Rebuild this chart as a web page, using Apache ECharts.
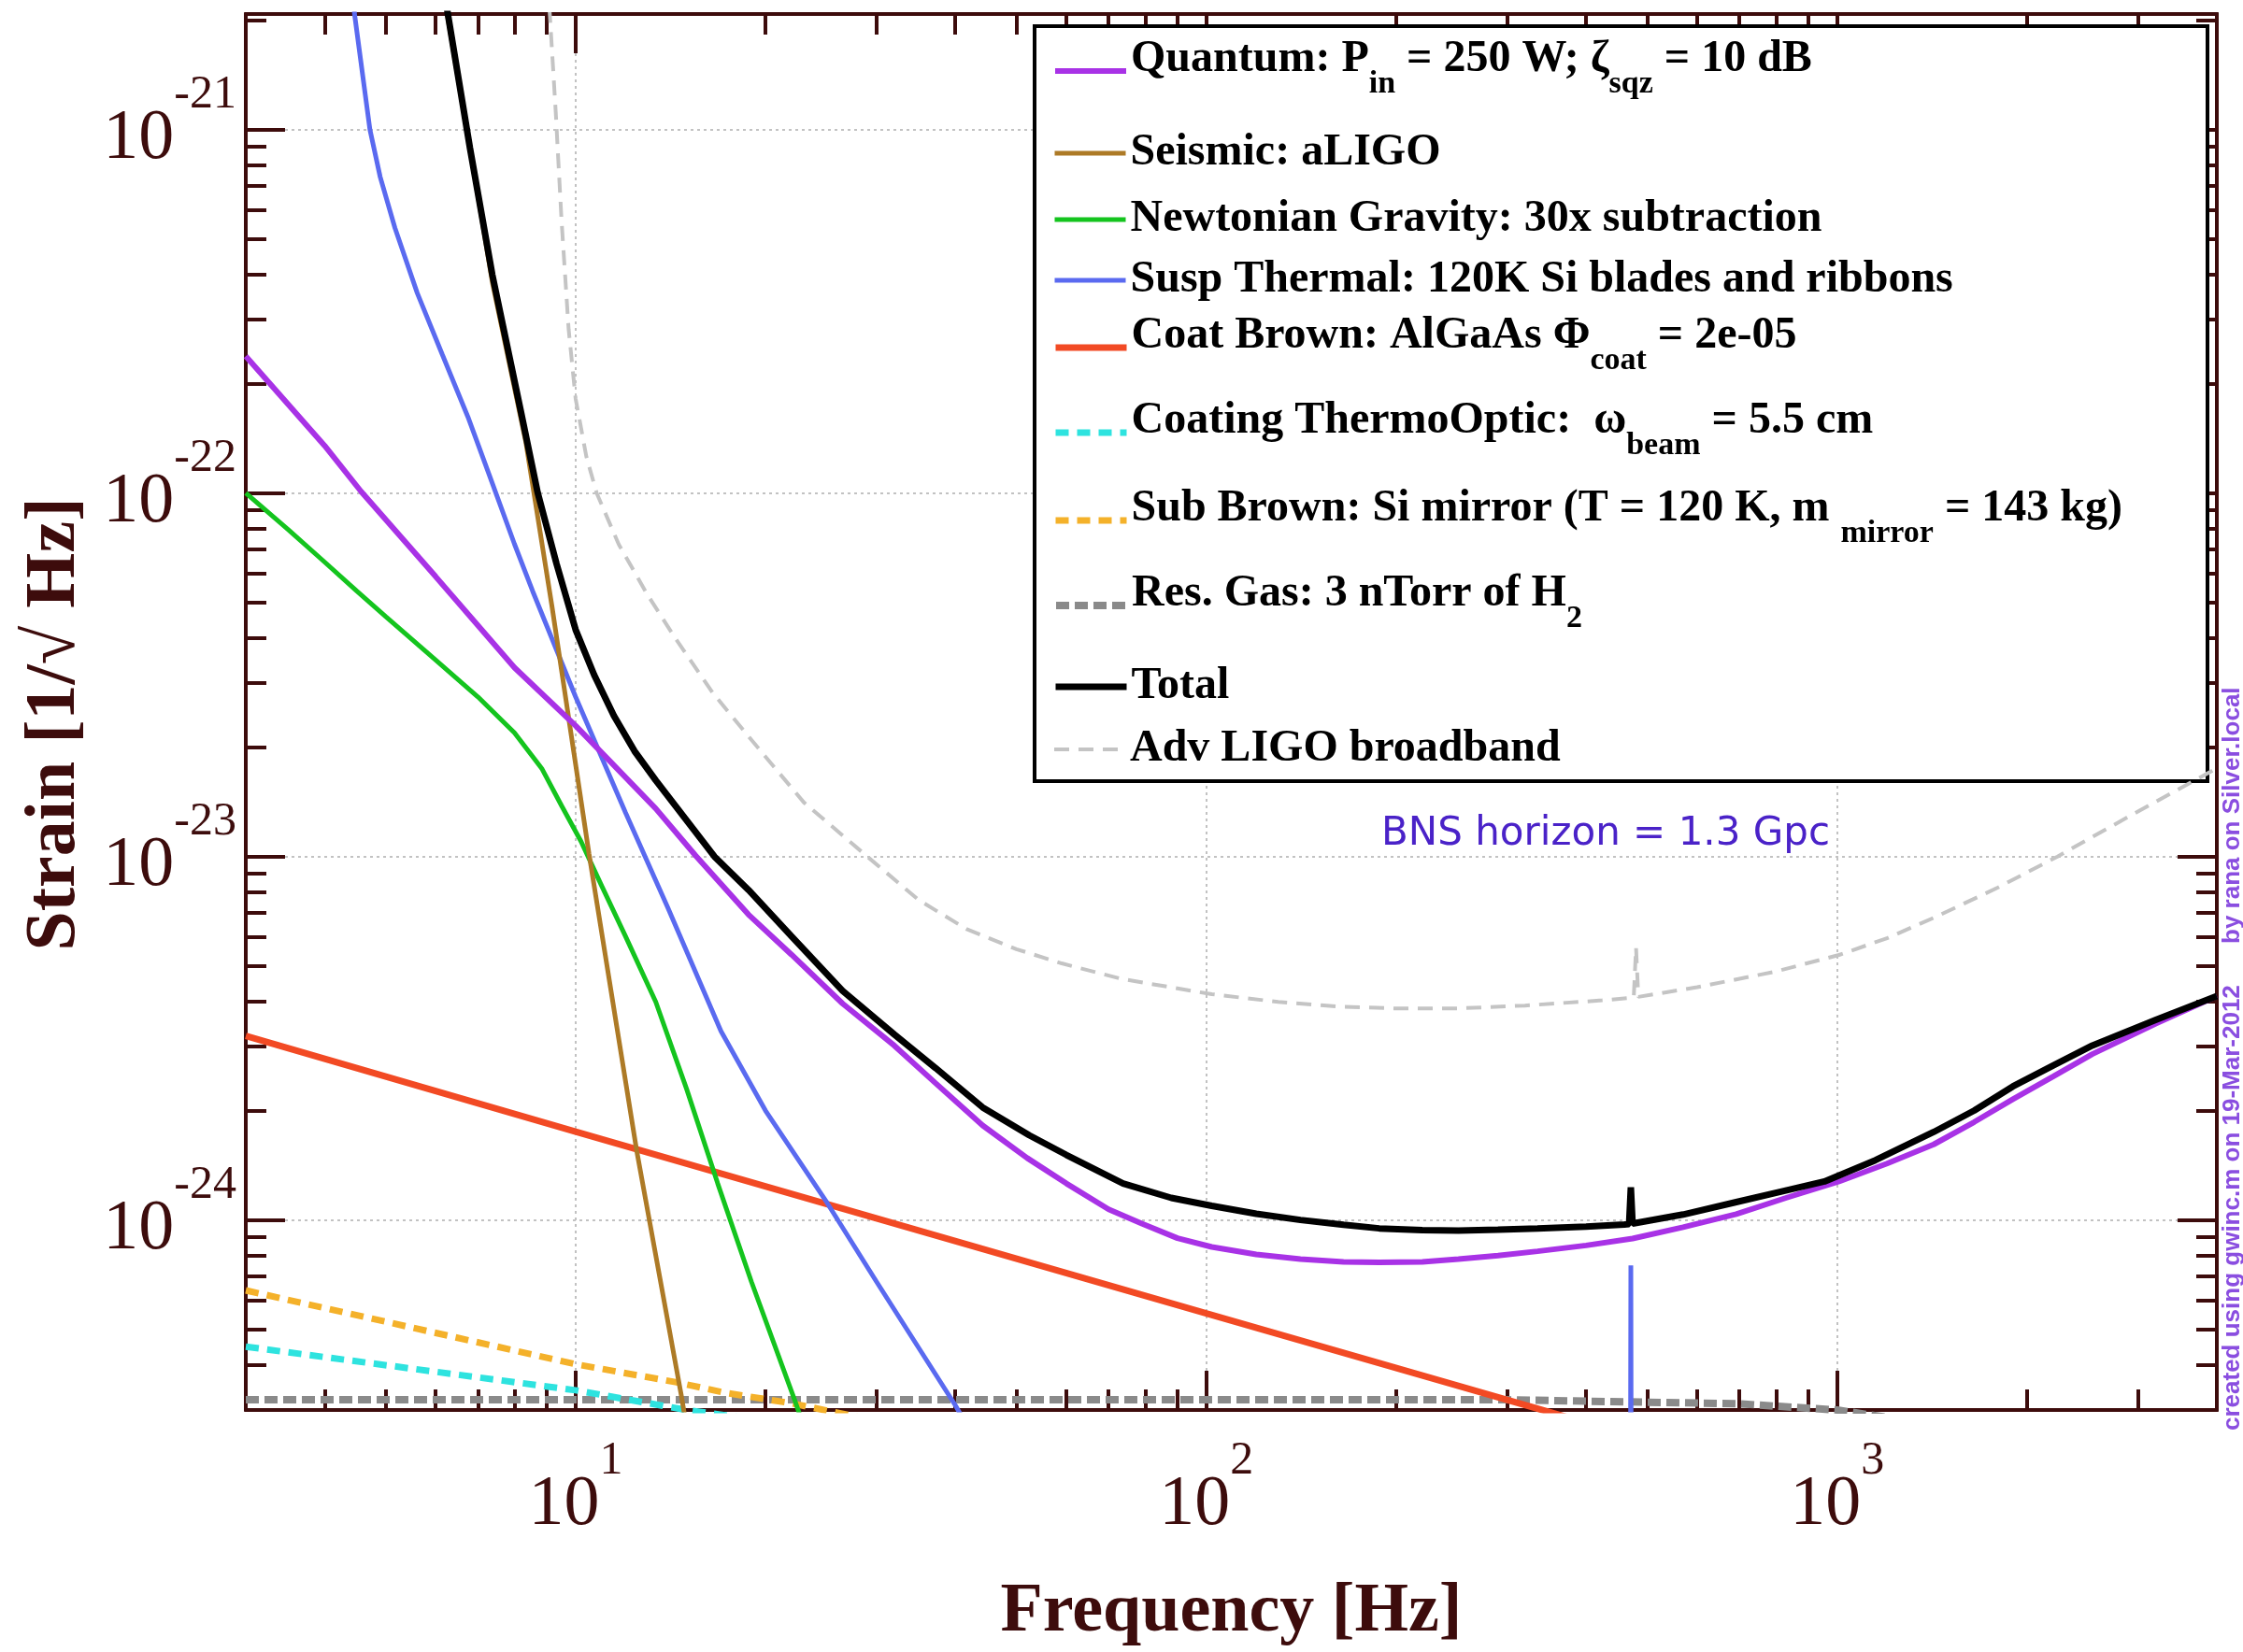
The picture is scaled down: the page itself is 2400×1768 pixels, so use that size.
<!DOCTYPE html>
<html lang="en">
<head>
  <meta charset="UTF-8">
  <title>Noise budget</title>
  <style>
    html, body { margin: 0; padding: 0; background: #fff; }
    #main { width: 2400px; height: 1768px; }
  </style>
</head>
<body>
  <div id="main"></div>
  <script src="https://cdn.jsdelivr.net/npm/echarts@6/dist/echarts.min.js"></script>
  <script>
    // noise curves: [frequency (Hz), strain (1/rtHz)]
    var quantum = [[3, 2.38e-22], [4, 1.35e-22], [4.57, 1.01e-22], [6, 5.89e-23], [8, 3.31e-23], [10, 2.29e-23],
      [13.4, 1.355e-23], [15.5, 1.005e-23], [18.8, 6.92e-24], [22, 5.37e-24], [26.5, 3.94e-24], [32, 3.02e-24],
      [37.2, 2.38e-24], [44.2, 1.82e-24], [52, 1.48e-24], [60, 1.26e-24], [70, 1.07e-24], [79, 9.77e-25],
      [90, 8.91e-25], [102, 8.43e-25], [120, 8.04e-25], [141, 7.80e-25], [165, 7.67e-25], [188, 7.64e-25],
      [220, 7.67e-25], [251, 7.80e-25], [290, 7.98e-25], [335, 8.20e-25], [400, 8.51e-25], [474, 8.89e-25],
      [570, 9.55e-25], [692, 1.038e-24], [830, 1.15e-24], [1007, 1.276e-24], [1200, 1.43e-24], [1423, 1.614e-24],
      [1650, 1.86e-24], [1900, 2.15e-24], [2200, 2.48e-24], [2539, 2.86e-24], [3200, 3.47e-24], [4000, 4.13e-24]];
    var seismic = [[6.0, 3.55e-21], [6.27, 2.04e-21], [7.0, 6.6e-22], [7.38, 3.8e-22], [8.34, 1.38e-22],
      [9.17, 4.9e-23], [10.5, 1.02e-23], [12.5, 1.55e-24], [14.7, 3.31e-25], [16.5, 1e-25]];
    var newtonian = [[3, 1.0e-22], [3.5, 7.94e-23], [4, 6.46e-23], [4.5, 5.37e-23], [5, 4.57e-23], [6, 3.47e-23],
      [7, 2.75e-23], [8, 2.19e-23], [8.85, 1.74e-23], [9.5, 1.38e-23], [10.2, 1.10e-23], [11, 8.3e-24],
      [12, 6.03e-24], [13.4, 3.98e-24], [15, 2.29e-24], [16.8, 1.26e-24], [19, 6.76e-25], [22.3, 3.16e-25],
      [25, 1.78e-25]];
    var suspThermal = [[4.35, 5e-21], [4.46, 2.09e-21], [4.72, 1e-21], [4.9, 7.41e-22], [5.17, 5.37e-22],
      [5.61, 3.55e-22], [6.15, 2.40e-22], [6.75, 1.62e-22], [7.3, 1.12e-22], [8.0, 7.24e-23], [8.55, 5.37e-23],
      [10, 2.75e-23], [12, 1.32e-23], [14, 7.24e-24], [17, 3.31e-24], [20, 2.0e-24], [25, 1.12e-24],
      [30, 6.76e-25], [40, 3.09e-25], [50, 1.58e-25], [469, 1e-26], [471, 7.5e-25], [473, 1e-26]];
    var coatBrown = [[3, 3.21e-24], [10, 1.75e-24], [100, 5.53e-25], [400, 2.77e-25]];
    var coatThermoOptic = [[3, 4.48e-25], [10, 3.40e-25], [15, 3.0e-25], [20, 2.8e-25]];
    var subBrown = [[3, 6.40e-25], [10, 4.01e-25], [14.4, 3.58e-25], [17.2, 3.35e-25], [22, 3.13e-25], [30, 2.8e-25]];
    var resGas = [[3, 3.2e-25], [300, 3.2e-25], [700, 3.12e-25], [1000, 3.0e-25], [1500, 2.7e-25]];
    var total = [[6.0, 3.55e-21], [6.27, 2.09e-21], [6.8, 8.9e-22], [7.38, 3.98e-22], [8.19, 1.675e-22],
      [8.71, 1.0e-22], [9.33, 6.38e-23], [10, 4.21e-23], [10.7, 3.16e-23], [11.5, 2.44e-23], [12.4, 1.95e-23],
      [13.4, 1.62e-23], [16.6, 1.0e-23], [18.8, 8.09e-24], [22, 6.03e-24], [26.5, 4.27e-24], [32, 3.24e-24],
      [37.2, 2.62e-24], [44.2, 2.04e-24], [52.4, 1.71e-24], [60, 1.51e-24], [73.8, 1.26e-24], [88, 1.15e-24],
      [102, 1.094e-24], [120, 1.04e-24], [141, 1.0e-24], [165, 9.70e-25], [188, 9.48e-25], [220, 9.38e-25],
      [251, 9.35e-25], [290, 9.40e-25], [335, 9.48e-25], [400, 9.59e-25], [460, 9.72e-25], [468, 9.75e-25],
      [471, 1.23e-24], [474, 9.77e-25], [570, 1.035e-24], [692, 1.12e-24], [820, 1.20e-24], [955, 1.276e-24],
      [1150, 1.46e-24], [1423, 1.746e-24], [1650, 2.0e-24], [1900, 2.33e-24], [2200, 2.66e-24],
      [2539, 3.02e-24], [3200, 3.55e-24], [4000, 4.13e-24]];
    var advLigo = [[8.9, 4e-21], [9.1, 2.09e-21], [9.3, 1.12e-21], [9.5, 5.62e-22], [9.75, 2.82e-22], [10, 1.82e-22],
      [10.4, 1.26e-22], [10.8, 1e-22], [11.7, 7.24e-23], [13, 5.25e-23], [14.4, 3.98e-23], [16.5, 2.82e-23],
      [18.8, 2.14e-23], [23, 1.41e-23], [29, 1e-23], [35, 7.59e-24], [41.7, 6.31e-24], [50, 5.56e-24],
      [59, 5.08e-24], [73.6, 4.60e-24], [102, 4.18e-24], [130, 3.98e-24], [163, 3.86e-24], [200, 3.82e-24],
      [251, 3.82e-24], [320, 3.89e-24], [424, 4.02e-24], [476, 4.09e-24], [480, 5.62e-24], [484, 4.11e-24],
      [600, 4.37e-24], [797, 4.82e-24], [1007, 5.36e-24], [1200, 5.96e-24], [1423, 6.78e-24], [1800, 8.22e-24],
      [2236, 1e-23], [2928, 1.30e-23], [4000, 1.75e-23]];

    // axis ranges and ticks (strain in 1/rtHz)
    var X_MIN = 3, X_MAX = 4000;
    var Y_MIN = 3e-25, Y_MAX = 2.08e-21;
    var xMajor = [10, 100, 1000];
    var xMinor = [4, 5, 6, 7, 8, 9, 20, 30, 40, 50, 60, 70, 80, 90, 200, 300, 400, 500, 600, 700, 800, 900, 2000, 3000];
    var yMajor = [1e-24, 1e-23, 1e-22, 1e-21];
    var yMinor = [4e-25, 5e-25, 6e-25, 7e-25, 8e-25, 9e-25,
      2e-24, 3e-24, 4e-24, 5e-24, 6e-24, 7e-24, 8e-24, 9e-24,
      2e-23, 3e-23, 4e-23, 5e-23, 6e-23, 7e-23, 8e-23, 9e-23,
      2e-22, 3e-22, 4e-22, 5e-22, 6e-22, 7e-22, 8e-22, 9e-22, 2e-21];

    // echarts' log scale rounds away tiny numbers, so the y axis counts in units of 1e-25
    var UNIT_EXP = -25;
    function toUnit(v) { return +(v / Math.pow(10, UNIT_EXP)).toPrecision(12); }

    var AXIS_COLOR = '#3d0c0c';
    var SERIF = '"Liberation Serif", "Times New Roman", serif';

    var legendNames = ['Quantum', 'Seismic', 'Newtonian', 'Susp', 'Coat', 'ThermoOptic', 'SubBrown', 'ResGas', 'Total', 'AdvLIGO'];
    var legendText = {
      'Quantum': '{m|Quantum: P}{s|in}{m| = 250 W; ζ}{s|sqz}{m| = 10 dB}',
      'Seismic': 'Seismic: aLIGO',
      'Newtonian': 'Newtonian Gravity: 30x subtraction',
      'Susp': 'Susp Thermal: 120K Si blades and ribbons',
      'Coat': '{m|Coat Brown: AlGaAs Φ}{s|coat}{m| = 2e-05}',
      'ThermoOptic': '{m|Coating ThermoOptic:  ω}{s|beam}{m| = 5.5 cm}',
      'SubBrown': '{m|Sub Brown: Si mirror (T = 120 K, m }{s|mirror}{m| = 143 kg)}',
      'ResGas': '{m|Res. Gas: 3 nTorr of H}{s|2}',
      'Total': 'Total',
      'AdvLIGO': 'Adv LIGO broadband'
    };
    // y of each legend row inside the box
    var legendY = [76, 164, 235, 300, 372, 463, 557, 648, 735, 802];

    var curves = [
      { name: 'AdvLIGO', data: advLigo, color: '#c4c4c4', width: 4, dash: [16, 10] },
      { name: 'ResGas', data: resGas, color: '#8a8a8a', width: 8, dash: [14, 6] },
      { name: 'ThermoOptic', data: coatThermoOptic, color: '#2ee3df', width: 7, dash: [14, 9] },
      { name: 'SubBrown', data: subBrown, color: '#f4b12a', width: 7, dash: [14, 9] },
      { name: 'Coat', data: coatBrown, color: '#f24a24', width: 7 },
      { name: 'Newtonian', data: newtonian, color: '#14c41e', width: 5 },
      { name: 'Susp', data: suspThermal, color: '#5a6af0', width: 5 },
      { name: 'Seismic', data: seismic, color: '#ad7a26', width: 5 },
      { name: 'Quantum', data: quantum, color: '#a832e6', width: 6 },
      { name: 'Total', data: total, color: '#000000', width: 7 }
    ];

    function expLabel(offset) {
      return function (value) {
        return '{b|10}{s|' + (Math.round(Math.log10(value)) + offset) + '}';
      };
    }
    // padding pushes "10" down and the exponent up inside one text block
    var labelRich = {
      b: { fontSize: 76, fontFamily: SERIF, color: AXIS_COLOR, padding: [20, 0, 0, 0] },
      s: { fontSize: 50, fontFamily: SERIF, color: AXIS_COLOR, padding: [0, 0, 74, 0] }
    };
    var gridLine = { show: true, lineStyle: { color: '#c2c2c2', width: 2, type: [3, 4] } };

    // one log axis per frame side and tick size
    function frameAxis(position, min, max, ticks, tickLen) {
      return {
        type: 'log', logBase: 10, position: position, min: min, max: max, silent: true,
        axisLine: { show: true, onZero: false, lineStyle: { color: AXIS_COLOR, width: 4 } },
        axisTick: { show: true, inside: true, length: tickLen, customValues: ticks, lineStyle: { color: AXIS_COLOR, width: 4 } },
        axisLabel: { show: false },
        splitLine: { show: false }
      };
    }

    var yMinU = toUnit(Y_MIN), yMaxU = toUnit(Y_MAX);
    var yMajorU = yMajor.map(toUnit), yMinorU = yMinor.map(toUnit);

    var xMain = frameAxis('bottom', X_MIN, X_MAX, xMajor, 42);
    xMain.splitLine = gridLine;
    xMain.axisLabel = { show: true, customValues: xMajor, formatter: expLabel(0), margin: 30, rich: labelRich };
    xMain.name = 'Frequency [Hz]';
    xMain.nameLocation = 'middle';
    xMain.nameGap = 180;
    xMain.nameTextStyle = { fontSize: 74, fontWeight: 'bold', fontFamily: SERIF, color: AXIS_COLOR };

    var yMain = frameAxis('left', yMinU, yMaxU, yMajorU, 42);
    yMain.splitLine = gridLine;
    yMain.axisLabel = { show: true, customValues: yMajorU, formatter: expLabel(UNIT_EXP), margin: 10, rich: labelRich };
    yMain.name = 'Strain [1/√ Hz]';
    yMain.nameLocation = 'middle';
    yMain.nameGap = 166;
    yMain.nameTextStyle = { fontSize: 76, fontWeight: 'bold', fontFamily: SERIF, color: AXIS_COLOR, padding: [0, 26, 0, 0] };

    var legendRich = {
      m: { fontFamily: SERIF, fontWeight: 'bold', fontSize: 48, color: '#000', padding: [0, 0, 24, 0] },
      s: { fontFamily: SERIF, fontWeight: 'bold', fontSize: 34, color: '#000', padding: [28, 0, 0, 0] }
    };
    // one legend per row so each row sits where the original put it
    var legends = legendNames.map(function (name, i) {
      var half = legendText[name].indexOf('{s|') >= 0 ? 36 : 24;
      return {
        orient: 'vertical', left: 1126, top: legendY[i] - half, padding: 0,
        itemWidth: 76, itemHeight: 10, selectedMode: false, z: 5,
        data: [name],
        itemStyle: { opacity: 0 },
        lineStyle: { width: 'inherit' },
        formatter: function (n) { return legendText[n]; },
        textStyle: { fontFamily: SERIF, fontWeight: 'bold', fontSize: 48, color: '#000', rich: legendRich }
      };
    });

    var myChart = echarts.init(document.getElementById('main'));
    var option = {
      animation: false,
      backgroundColor: '#ffffff',
      grid: { left: 263, right: 28, top: 15, bottom: 236 },
      xAxis: [
        xMain,
        frameAxis('bottom', X_MIN, X_MAX, xMinor, 22),
        frameAxis('top', X_MIN, X_MAX, xMajor, 42),
        frameAxis('top', X_MIN, X_MAX, xMinor, 22)
      ],
      yAxis: [
        yMain,
        frameAxis('left', yMinU, yMaxU, yMinorU, 22),
        frameAxis('right', yMinU, yMaxU, yMajorU, 42),
        frameAxis('right', yMinU, yMaxU, yMinorU, 22)
      ],
      legend: legends,
      graphic: [
        { type: 'rect', z: 3, shape: { x: 1107, y: 28, width: 1255, height: 808 },
          style: { fill: '#ffffff', stroke: '#000000', lineWidth: 4 } },
        { type: 'text', x: 1718, y: 893,
          style: { text: 'BNS horizon = 1.3 Gpc', fill: '#4a22c8', font: '42px "DejaVu Sans"', align: 'center', verticalAlign: 'middle' } },
        { type: 'text', x: 2389, y: 1531, rotation: Math.PI / 2,
          style: { text: 'created using gwinc.m on 19-Mar-2012', fill: '#8a4ee0', font: 'bold 26px "Liberation Sans"', align: 'left', verticalAlign: 'middle' } },
        { type: 'text', x: 2389, y: 1010, rotation: Math.PI / 2,
          style: { text: 'by rana on Silver.local', fill: '#8a4ee0', font: 'bold 26px "Liberation Sans"', align: 'left', verticalAlign: 'middle' } }
      ],
      series: curves.map(function (c) {
        return {
          type: 'line', name: c.name,
          data: c.data.map(function (p) { return [p[0], toUnit(p[1])]; }),
          xAxisIndex: 0, yAxisIndex: 0,
          symbol: 'none', showSymbol: false, clip: true, silent: true, smooth: false,
          color: c.color,
          lineStyle: { color: c.color, width: c.width, type: c.dash || 'solid' },
          emphasis: { disabled: true }
        };
      })
    };

    option && myChart.setOption(option);
  </script>
</body>
</html>
